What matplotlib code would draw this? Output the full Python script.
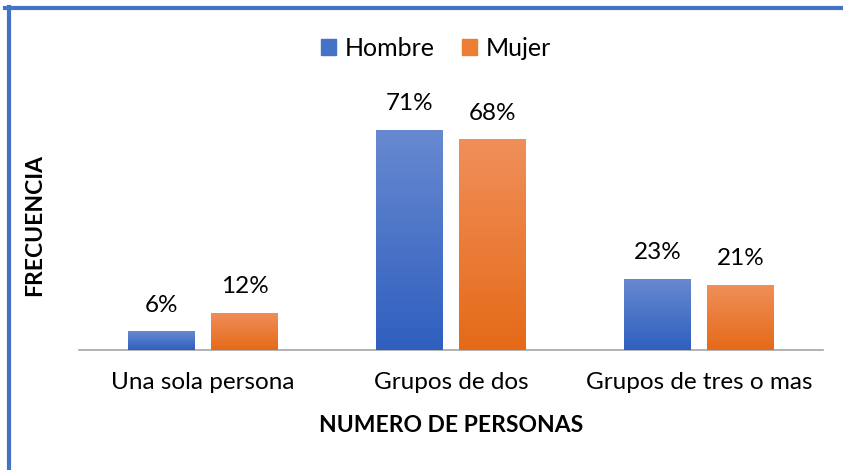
import matplotlib.pyplot as plt
import matplotlib.colors as mcolors
import numpy as np
from matplotlib.lines import Line2D

categorias = ['Una sola persona', 'Grupos de dos', 'Grupos de tres o mas']
hombre = [6, 71, 23]
mujer = [12, 68, 21]
series = ['Hombre', 'Mujer']

plt.rcParams['font.family'] = ['Lato', 'DejaVu Sans']

fig = plt.figure(figsize=(8.43, 4.70), dpi=100)
ax = fig.add_axes([79 / 843, 120 / 470, 744 / 843, 248 / 470])

x = np.arange(len(categorias))
w = 0.27
off = 0.1675

grad_azul = mcolors.LinearSegmentedColormap.from_list('az', ['#2f5fbf', '#6889d0'])
grad_naranja = mcolors.LinearSegmentedColormap.from_list('na', ['#e56a18', '#f08f5a'])
grad = np.linspace(0, 1, 100).reshape(-1, 1)


def barras_gradiente(xs, vals, cmap, color):
    bars = ax.bar(xs, vals, w, color=color, zorder=2)
    for b in bars:
        x0, y0 = b.get_x(), b.get_y()
        im = ax.imshow(grad, cmap=cmap, origin='lower', aspect='auto',
                       extent=[x0, x0 + b.get_width(), y0, y0 + b.get_height()], zorder=3)
        im.set_clip_path(b)
    for xi, v in zip(xs, vals):
        ax.text(xi, v + 5.0, f'{v}%', ha='center', va='bottom', fontsize=17.5, color='#000000')
    return bars


barras_gradiente(x - off, hombre, grad_azul, '#4472c4')
barras_gradiente(x + off, mujer, grad_naranja, '#ed7d31')

ax.set_xlim(-0.5, 2.5)
ax.set_ylim(0, 80)
ax.set_yticks([])
ax.set_xticks(x)
ax.set_xticklabels(categorias, fontsize=17.5)
ax.tick_params(axis='x', length=0, pad=16)
for s in ['top', 'right', 'left']:
    ax.spines[s].set_visible(False)
ax.spines['bottom'].set_color('#a6a6a6')
ax.spines['bottom'].set_linewidth(1.2)

fig.text(451 / 843, 1 - 425 / 470, 'NUMERO DE PERSONAS', ha='center', va='center',
         fontsize=16.5, fontweight='bold')
fig.text(35 / 843, 1 - 225 / 470, 'FRECUENCIA', ha='center', va='center',
         rotation=90, fontsize=16.5, fontweight='bold')

handles = [plt.Rectangle((0, 0), 1, 1, color='#4472c4'),
           plt.Rectangle((0, 0), 1, 1, color='#ed7d31')]
fig.legend(handles, series, loc='center', bbox_to_anchor=(436 / 843, 1 - 48 / 470),
           ncol=2, frameon=False, fontsize=18, handlelength=0.6, handleheight=0.6,
           handletextpad=0.35, columnspacing=1.1)

# marco azul
fig.add_artist(Line2D([5 / 843, 1], [1 - 8 / 470, 1 - 8 / 470], color='#4472c4', lw=3))
fig.add_artist(Line2D([9 / 843, 9 / 843], [0, 1 - 7 / 470], color='#4472c4', lw=3))

fig.savefig('out.png', dpi=100)
